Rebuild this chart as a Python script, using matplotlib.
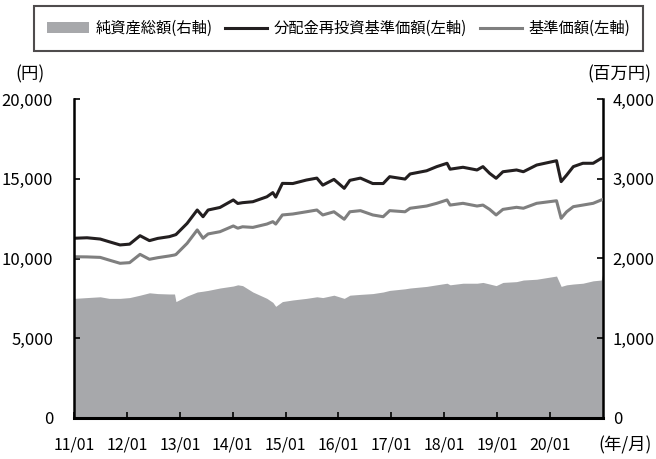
import matplotlib
matplotlib.use("Agg")
import matplotlib.pyplot as plt
import matplotlib.ticker as mticker
import pandas as pd

plt.rcParams['font.family'] = ['Noto Sans CJK JP', 'DejaVu Sans']

# values
dates = pd.to_datetime([
    "2011-01-04", "2011-04-01", "2011-07-01", "2011-09-01", "2011-11-15",
    "2012-01-20", "2012-04-01", "2012-06-05", "2012-08-01", "2012-10-20",
    "2012-11-25", "2012-12-05", "2013-02-20", "2013-05-01", "2013-06-10",
    "2013-07-15", "2013-10-05", "2014-01-05", "2014-02-05", "2014-03-10",
    "2014-05-20", "2014-08-25", "2014-10-05", "2014-10-25", "2014-12-10",
    "2015-02-20", "2015-05-25", "2015-08-05", "2015-09-15", "2015-12-01",
    "2016-02-10", "2016-03-20", "2016-06-01", "2016-08-25", "2016-11-05",
    "2016-12-20", "2017-04-05", "2017-05-10", "2017-09-01", "2017-11-10",
    "2018-01-20", "2018-02-10", "2018-05-10", "2018-08-15", "2018-09-25",
    "2018-11-10", "2018-12-25", "2019-02-10", "2019-05-15", "2019-07-01",
    "2019-10-01", "2020-02-15", "2020-03-18", "2020-04-25", "2020-06-10",
    "2020-08-15", "2020-10-25", "2020-12-20", "2020-12-30",
])
reinvest_nav = [
    11270, 11300, 11220, 11050, 10850,
    10900, 11430, 11120, 11260, 11370,
    11470, 11500, 12200, 13040, 12620,
    13040, 13200, 13670, 13450, 13500,
    13560, 13870, 14130, 13850, 14710,
    14700, 14920, 15040, 14600, 14960,
    14400, 14900, 15040, 14700, 14700,
    15130, 14980, 15300, 15500, 15760,
    15970, 15600, 15720, 15550, 15760,
    15340, 15030, 15440, 15550, 15440,
    15860, 16130, 14820, 15230, 15760,
    15970, 15970, 16280, 16300,
]
base_nav = [
    10110, 10100, 10070, 9900, 9700,
    9740, 10260, 9950, 10050, 10160,
    10220, 10250, 10950, 11790, 11270,
    11540, 11680, 12040, 11900, 11990,
    11950, 12160, 12310, 12160, 12730,
    12790, 12930, 13040, 12730, 12930,
    12460, 12930, 13000, 12730, 12620,
    13000, 12930, 13150, 13290, 13460,
    13670, 13350, 13460, 13290, 13350,
    13080, 12730, 13080, 13210, 13150,
    13460, 13620, 12520, 12930, 13250,
    13350, 13460, 13670, 13700,
]
net_assets = [
    1500, 1510, 1520, 1500, 1500,
    1510, 1540, 1570, 1560, 1555,
    1555, 1460, 1530, 1580, 1590,
    1600, 1630, 1655, 1670, 1660,
    1580, 1500, 1450, 1400, 1460,
    1480, 1500, 1520, 1510, 1540,
    1500, 1540, 1550, 1560, 1580,
    1600, 1620, 1630, 1650, 1670,
    1690, 1670, 1690, 1690, 1700,
    1680, 1660, 1700, 1710, 1730,
    1740, 1780, 1650, 1670, 1680,
    1690, 1720, 1730, 1810,
]
tick_dates = pd.to_datetime([f"{y}-01-01" for y in range(2011, 2021)])
tick_labels = [f"{y % 100:02d}/01" for y in range(2011, 2021)]

fig = plt.figure(figsize=(6.56, 4.59), dpi=100)
ax = fig.add_axes([74 / 656, 1 - 418 / 459, (603 - 74) / 656, (418 - 99) / 459])
ax2 = ax.twinx()

# area on the right axis, lines on the left axis drawn above it
area = ax2.fill_between(dates, 0, net_assets, color="#a7a8ab", linewidth=0,
                        label="純資産総額(右軸)")
ax.set_zorder(ax2.get_zorder() + 1)
ax.patch.set_visible(False)

l1, = ax.plot(dates, reinvest_nav, color="#231f20", linewidth=2.2,
              label="分配金再投資基準価額(左軸)")
l2, = ax.plot(dates, base_nav, color="#7f7f7f", linewidth=2.2,
              label="基準価額(左軸)")

ax.set_xlim(pd.Timestamp("2011-01-01"), pd.Timestamp("2021-01-01"))
ax.set_ylim(0, 20000)
ax2.set_ylim(0, 4000)
ax.set_yticks(range(0, 20001, 5000))
ax2.set_yticks(range(0, 4001, 1000))
ax.yaxis.set_major_formatter(mticker.StrMethodFormatter("{x:,.0f}"))
ax2.yaxis.set_major_formatter(mticker.StrMethodFormatter("{x:,.0f}"))
ax.set_xticks(tick_dates)
ax.set_xticklabels(tick_labels)

for s in ["top", "right"]:
    ax.spines[s].set_visible(False)
for s in ["top", "left", "bottom"]:
    ax2.spines[s].set_visible(False)
ax.spines["left"].set_linewidth(1.8)
ax.spines["bottom"].set_linewidth(2.2)
ax2.spines["right"].set_linewidth(1.8)

ax.tick_params(axis="y", direction="in", length=4, width=1.2, labelsize=12, pad=15)
ax.tick_params(axis="x", direction="in", length=4, width=1.2, labelsize=11.5, pad=13)
ax2.tick_params(axis="y", direction="in", length=4, width=1.2, labelsize=12, pad=7)

fig.text(30 / 656, 1 - 74 / 459, "(円)", ha="center", va="center", fontsize=12.5)
fig.text(619 / 656, 1 - 74 / 459, "(百万円)", ha="center", va="center", fontsize=12.5)
fig.text(625 / 656, 1 - 445 / 459, "(年/月)", ha="center", va="center", fontsize=12.5)

leg = fig.legend([area, l1, l2], [area.get_label(), l1.get_label(), l2.get_label()],
                 loc="center", bbox_to_anchor=((34 + 643) / 2 / 656, 1 - 28.5 / 459),
                 ncol=3, fontsize=11, frameon=True, fancybox=False,
                 handlelength=2.75, handletextpad=0.4, columnspacing=0.85,
                 borderpad=0.9)
leg.get_frame().set_edgecolor("#231f20")
leg.get_frame().set_linewidth(1.5)

plt.savefig("out.png", dpi=100)
